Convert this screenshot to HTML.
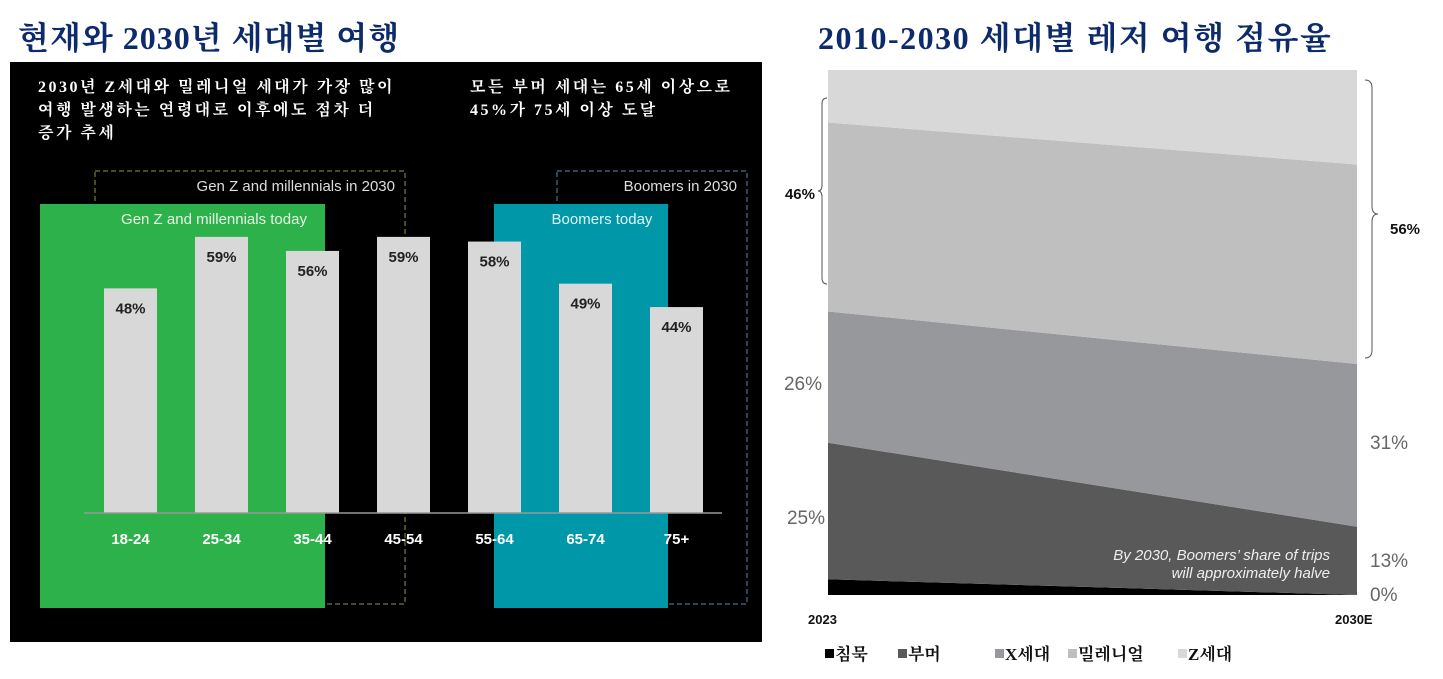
<!DOCTYPE html>
<html><head><meta charset="utf-8"><style>
body{margin:0;background:#fff;width:1443px;height:679px;overflow:hidden;position:relative;font-family:"Liberation Sans","Noto Sans CJK KR",sans-serif}
.t{position:absolute;font-family:"Liberation Serif","Noto Serif CJK SC",serif;color:#0d2a6b;font-size:32px;font-weight:bold;white-space:nowrap}
</style></head><body>
<div class="t" style="left:18px;top:13px;letter-spacing:1px">현재와 2030년 세대별 여행</div>
<div class="t" style="left:818px;top:13px;letter-spacing:1.5px">2010-2030 세대별 레저 여행 점유율</div>
<svg width="1443" height="679" style="position:absolute;left:0;top:0" id="svg">
<rect x="10" y="62" width="752" height="580" fill="#000"/>
<text fill="#fff" font-size="16" font-weight="bold" letter-spacing="2.5" font-family="Liberation Serif,Noto Serif CJK KR,serif"><tspan x="38" y="92">2030년 Z세대와 밀레니얼 세대가 가장 많이</tspan><tspan x="38" y="115">여행 발생하는 연령대로 이후에도 점차 더</tspan><tspan x="38" y="138">증가 추세</tspan></text>
<text fill="#fff" font-size="16" font-weight="bold" letter-spacing="2.5" font-family="Liberation Serif,Noto Serif CJK KR,serif"><tspan x="470" y="92">모든 부머 세대는 65세 이상으로</tspan><tspan x="470" y="115">45%가 75세 이상 도달</tspan></text>
<rect x="95" y="171" width="310" height="433" fill="none" stroke="#8a9a4a" stroke-dasharray="5,3"/>
<rect x="557" y="171" width="190" height="433" fill="none" stroke="#5a8aa8" stroke-dasharray="5,3"/>
<text x="395" y="191" fill="#ddd" font-size="15" text-anchor="end">Gen Z and millennials in 2030</text>
<text x="737" y="191" fill="#ddd" font-size="15" text-anchor="end">Boomers in 2030</text>
<rect x="40" y="204" width="285" height="404" fill="#2db14a"/>
<rect x="494" y="204" width="174" height="404" fill="#0097a9"/>
<text x="214" y="224" fill="#e6f5e6" font-size="15" text-anchor="middle">Gen Z and millennials today</text>
<text x="602" y="224" fill="#e0f4f6" font-size="15" text-anchor="middle">Boomers today</text>
<g id="bars"></g>
<line x1="84" y1="513" x2="722" y2="513" stroke="#999" stroke-width="1.5"/>
<g id="area"></g>
</svg>
<script>
const ageCats=["18-24","25-34","35-44","45-54","55-64","65-74","75+"];
const ageVals=[48,59,56,59,58,49,44];
const years=["2023","2030E"];
const silent=[3,0];
const boomers=[26,13];
const genX=[25,31];
const millennials=[36,38];
const genZ=[10,18];
const leftLabels=["25%","26%"];
const rightLabels=["0%","13%","31%"];
const NS="http://www.w3.org/2000/svg";
function mk(t,a,p){const e=document.createElementNS(NS,t);for(const k in a)e.setAttribute(k,a[k]);p.appendChild(e);return e;}
const bg=document.getElementById('bars');
const xB=i=>104+i*91, yB=v=>513-v*4.68;
ageCats.forEach((c,i)=>{
 const r=mk('rect',{x:xB(i),y:yB(ageVals[i]),width:53,height:513-yB(ageVals[i]),fill:'#d9d8d9'},bg);
 
 
 const t=mk('text',{x:xB(i)+26.5,y:yB(ageVals[i])+25,'font-size':15,'font-weight':'bold',fill:'#222','text-anchor':'middle'},bg);t.textContent=ageVals[i]+'%';
 
 
 const l=mk('text',{x:xB(i)+26.5,y:544,'font-size':15,'font-weight':'bold',fill:'#fff','text-anchor':'middle'},bg);l.textContent=c;
 
 
});
const ag=document.getElementById('area');
const X0=828,X1=1357,Y0=70,Y1=595;
const yA=v=>Y1-v/100*(Y1-Y0);
const series=[silent,boomers,genX,millennials,genZ];
const names=['silent','boomers','gen-x','millennials','gen-z'];
const cols=['#000','#595959','#97989c','#bfbfbf','#d9d8d9'];
let cum=[0,0];
series.forEach((s,k)=>{
 const lo=cum.slice();cum=cum.map((c,i)=>c+s[i]);
 const p=mk('polygon',{points:`${X0},${yA(lo[0])} ${X1},${yA(lo[1])} ${X1},${yA(cum[1])} ${X0},${yA(cum[0])}`,fill:cols[k]},ag);
 
 
});
function txt(x,y,s,o,n){const t=mk('text',Object.assign({x:x,y:y,'font-size':19,fill:'#666'},o||{}),ag);t.textContent=s;return t;}
txt(825,524,leftLabels[0],{'text-anchor':'end'},'label-2023-boomers');
txt(822,390,leftLabels[1],{'text-anchor':'end'},'label-2023-genx');
txt(1370,601,rightLabels[0],{},'label-2030-silent');
txt(1370,449,rightLabels[2],{},'label-2030-genx');
txt(1370,567,rightLabels[1],{},'label-2030-boomers');
txt(815,199,'46%',{'text-anchor':'end','font-size':15,'font-weight':'bold',fill:'#111'},'label-2023-young');
txt(1390,234,'56%',{'font-size':15,'font-weight':'bold',fill:'#111'},'label-2030-young');
const br1=mk('path',{d:'M827,98 Q822,98 822,104 L822,185 Q822,191 818,191 Q822,191 822,197 L822,278 Q822,284 827,284',fill:'none',stroke:'#555'},ag);

const br2=mk('path',{d:'M1365,80 Q1372,80 1372,88 L1372,206 Q1372,214 1378,214 Q1372,214 1372,222 L1372,350 Q1372,358 1365,358',fill:'none',stroke:'#555'},ag);

txt(1330,560,'By 2030, Boomers’ share of trips',{'text-anchor':'end','font-size':15,'font-style':'italic',fill:'#eee'},'annotation-line1');
txt(1330,578,'will approximately halve',{'text-anchor':'end','font-size':15,'font-style':'italic',fill:'#eee'},'annotation-line2');
txt(808,624,years[0],{'font-size':13,'font-weight':'bold',fill:'#111'},'x-label-2023');
txt(1335,624,years[1],{'font-size':13,'font-weight':'bold',fill:'#111'},'x-label-2030');
const leg=[['침묵',825],['부머',898],['X세대',995],['밀레니얼',1068],['Z세대',1178]];
leg.forEach((l,k)=>{
 const r=mk('rect',{x:l[1],y:649,width:9,height:9,fill:cols[k]},ag);
 
 const t=mk('text',{x:l[1]+10,y:660,'font-size':17,'font-weight':'bold',fill:'#111','font-family':'Liberation Serif,Noto Serif CJK KR,serif'},ag);t.textContent=l[0];
 
});
</script>
</body></html>
